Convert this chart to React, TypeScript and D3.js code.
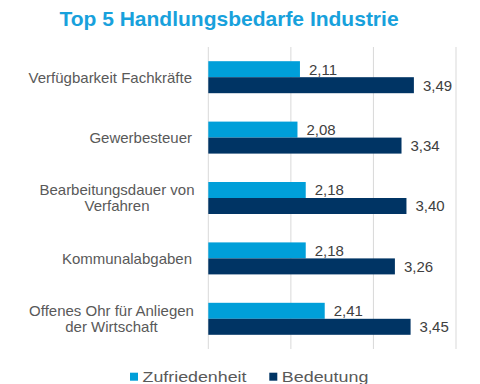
import React from "react";
import * as d3 from "d3";

const categories: string[][] = [
  ["Verfügbarkeit Fachkräfte"],
  ["Gewerbesteuer"],
  ["Bearbeitungsdauer von", "Verfahren"],
  ["Kommunalabgaben"],
  ["Offenes Ohr für Anliegen", "der Wirtschaft"],
];
const seriesNames = ["Zufriedenheit", "Bedeutung"];
const zufriedenheit = [2.11, 2.08, 2.18, 2.18, 2.41];
const bedeutung = [3.49, 3.34, 3.4, 3.26, 3.45];
const xTicks = [1, 2, 3, 4];
const title = "Top 5 Handlungsbedarfe Industrie";

const colors = ["#009fd9", "#003464"];
const W = 480;
const H = 384;
const font = "Liberation Sans, Arial, sans-serif";

export default function App() {
  const x = d3.scaleLinear().domain([1, 4]).range([208.3, 456]);
  const keys = categories.map((_, i) => String(i));
  const y0 = d3.scaleBand().domain(keys).range([47, 349]).padding(0);
  const y1 = d3
    .scaleBand()
    .domain(seriesNames)
    .range([0, y0.bandwidth()])
    .paddingInner(0)
    .paddingOuter(0.8875);
  const values = [zufriedenheit, bedeutung];
  const fmt = (v: number) => v.toFixed(2).replace(".", ",");
  const legendX = [130, 269.3];
  const legendLen = [104, 86.6];

  return (
    <svg
      width={W}
      height={H}
      style={{ position: "absolute", left: 0, top: 0, background: "#fff" }}
      fontFamily={font}
    >
      <text
        x={229}
        y={25.5}
        textAnchor="middle"
        fontSize={21}
        fontWeight="bold"
        fill="#18a1dc"
      >
        {title}
      </text>
      {xTicks.map((t) => (
        <line
          key={t}
          x1={x(t)}
          x2={x(t)}
          y1={47}
          y2={349}
          stroke="#d9d9d9"
          strokeWidth={1}
        />
      ))}
      {keys.map((k, i) => {
        const gy = y0(k)!;
        const cy = gy + y0.bandwidth() / 2;
        const lines = categories[i];
        const lh = 16;
        const startY = cy - ((lines.length - 1) * lh) / 2 + 5.3;
        return (
          <g key={k}>
            {lines.map((ln, j) => (
              <text
                key={j}
                x={lines.length > 1 ? (i === 2 ? 117 : 111.5) : 192}
                y={startY + j * lh}
                textAnchor={lines.length > 1 ? "middle" : "end"}
                fontSize={15}
                fill="#595959"
              >
                {ln}
              </text>
            ))}
            {seriesNames.map((s, si) => {
              const by = gy + y1(s)!;
              const v = values[si][i];
              return (
                <g key={s}>
                  <rect
                    x={x(1)}
                    y={by}
                    width={x(v) - x(1)}
                    height={y1.bandwidth()}
                    fill={colors[si]}
                  />
                  <text
                    x={x(v) + 9}
                    y={by + y1.bandwidth() / 2 + 5.3}
                    fontSize={15}
                    fill="#404040"
                  >
                    {fmt(v)}
                  </text>
                </g>
              );
            })}
          </g>
        );
      })}
      {seriesNames.map((s, si) => {
        const lx = legendX[si];
        return (
          <g key={s}>
            <rect x={lx} y={372.7} width={8} height={8} fill={colors[si]} />
            <text
              x={lx + 12.5}
              y={382}
              fontSize={15.5}
              textLength={legendLen[si]}
              lengthAdjust="spacingAndGlyphs"
              fill="#595959"
            >
              {s}
            </text>
          </g>
        );
      })}
    </svg>
  );
}
